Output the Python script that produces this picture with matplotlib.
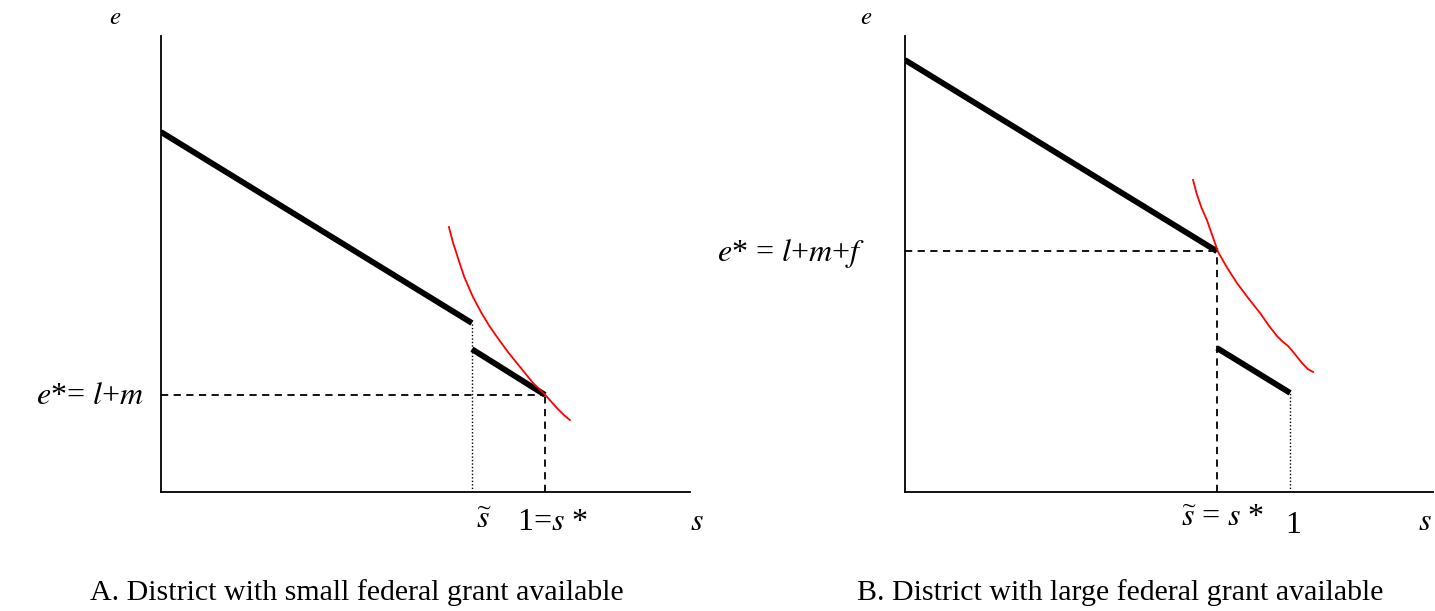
import matplotlib
matplotlib.use("Agg")
import matplotlib.pyplot as plt

plt.rcParams['font.family'] = ['Liberation Serif', 'DejaVu Serif']
plt.rcParams['mathtext.fontset'] = 'stix'

# ---- Panel A data (s, e) ----
a_seg1_s = [0.0, 0.81]
a_seg1_e = [0.9375, 0.44]
a_seg2_s = [0.81, 1.0]
a_seg2_e = [0.372, 0.253]
a_s_tilde = 0.81
a_s_star = 1.0
a_e_star = 0.253
a_red_s = [0.75, 0.76, 0.775, 0.79, 0.8125, 0.835, 0.855, 0.875, 0.905, 0.935, 0.969, 1.0, 1.031, 1.05, 1.065]
a_red_e = [0.690, 0.652, 0.605, 0.560, 0.508, 0.466, 0.433, 0.404, 0.363, 0.326, 0.284, 0.254, 0.219, 0.200, 0.1875]

# ---- Panel B data (s, e) ----
b_seg1_s = [0.0, 0.81]
b_seg1_e = [1.125, 0.627]
b_seg2_s = [0.81, 1.0]
b_seg2_e = [0.375, 0.258]
b_s_tilde = 0.81
b_s_one = 1.0
b_e_star = 0.627
b_red_s = [0.748, 0.757, 0.770, 0.784, 0.798, 0.813, 0.837, 0.862, 0.892, 0.922, 0.945, 0.966, 0.980, 0.995, 1.010, 1.030, 1.046, 1.060]
b_red_e = [0.8125, 0.778, 0.740, 0.708, 0.668, 0.625, 0.583, 0.544, 0.504, 0.466, 0.433, 0.406, 0.392, 0.380, 0.362, 0.337, 0.320, 0.3125]

W, H = 1435, 611
fig = plt.figure(figsize=(W / 100, H / 100), dpi=100)

axA = fig.add_axes([161 / W, (H - 492) / H, 529 / W, 456 / H])
axB = fig.add_axes([905 / W, (H - 492) / H, 528 / W, 456 / H])

for ax, xmax in ((axA, 1.378), (axB, 1.371)):
    ax.set_xlim(0, xmax)
    ax.set_ylim(0, 1.1875)
    for sp in ('top', 'right'):
        ax.spines[sp].set_visible(False)
    for sp in ('left', 'bottom'):
        ax.spines[sp].set_linewidth(1.3)
    ax.set_xticks([])
    ax.set_yticks([])
    ax.patch.set_alpha(0)

thick = dict(color='black', lw=4.2, solid_capstyle='butt')
red = dict(color='red', lw=1.3)
dash = dict(color='black', lw=1.3, ls=(0, (4, 3)))
dot = dict(color='black', lw=1.0, ls=(0, (1, 1.5)))

lab = dict(fontsize=23, va='center', clip_on=False)
elab = dict(fontsize=18, ha='center', va='center', clip_on=False)

# Panel A
axA.plot(a_seg1_s, a_seg1_e, **thick)
axA.plot(a_seg2_s, a_seg2_e, **thick)
axA.plot([a_s_tilde, a_s_tilde], [0, a_seg1_e[1]], **dot)
axA.plot([0, a_s_star], [a_e_star, a_e_star], **dash)
axA.plot([a_s_star, a_s_star], [0, a_e_star], **dash)
axA.plot(a_red_s, a_red_e, **red)

axA.text(-0.12, 1.234, r'$e$', **elab)
axA.text(-0.045, a_e_star - 0.005, r'$e$*= $l$+$m$', ha='right', **lab)
axA.text(0.84, -0.075, r'$\widetilde{s}$', ha='center', **lab)
axA.text(1.02, -0.08, r'1=$s$ *', ha='center', **lab)
axA.text(1.396, -0.08, r'$s$', ha='center', **lab)

# Panel B
axB.plot(b_seg1_s, b_seg1_e, **thick)
axB.plot(b_seg2_s, b_seg2_e, **thick)
axB.plot([0, b_s_tilde], [b_e_star, b_e_star], **dash)
axB.plot([b_s_tilde, b_s_tilde], [0, b_e_star], **dash)
axB.plot([b_s_one, b_s_one], [0, b_seg2_e[1]], **dot)
axB.plot(b_red_s, b_red_e, **red)

axB.text(-0.101, 1.234, r'$e$', **elab)
axB.text(-0.104, b_e_star - 0.005, r'$e$* = $l$+$m$+$f$', ha='right', **lab)
axB.text(0.826, -0.07, r'$\widetilde{s}$ = $s$ *', ha='center', **lab)
axB.text(1.008, -0.088, '1', ha='center', **lab)
axB.text(1.35, -0.08, r'$s$', ha='center', **lab)

fig.text(357 / W, 1 - 593 / H, 'A. District with small federal grant available',
         ha='center', va='center', fontsize=21.5)
fig.text(1120 / W, 1 - 593 / H, 'B. District with large federal grant available',
         ha='center', va='center', fontsize=21.5)

fig.savefig('out.png', dpi=100)
